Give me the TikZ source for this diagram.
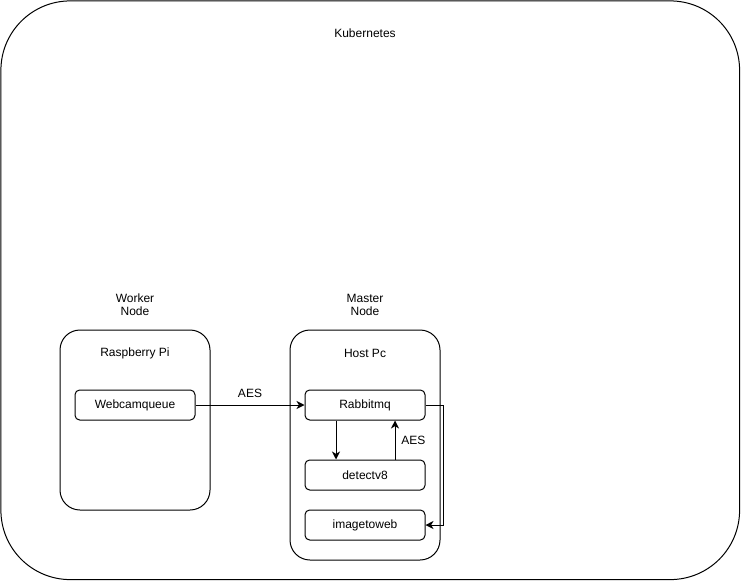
\documentclass[tikz,border=0pt]{standalone}
\usepackage{fontspec}
\setmainfont{Liberation Sans}
\usetikzlibrary{arrows.meta}
\begin{document}
\begin{tikzpicture}[x=0.75pt,y=-0.75pt,line width=0.75pt,
    font=\fontsize{9}{9.75}\selectfont,
    every node/.style={align=center},
    cluster/.style={draw,rounded corners=52pt,minimum width=554pt,minimum height=434pt,inner sep=0pt},
    machine/.style={draw,rounded corners=15pt,minimum width=112.5pt,inner sep=0pt},
    service/.style={draw,rounded corners=3.5pt,minimum width=90pt,minimum height=22.5pt,inner sep=0pt},
    link/.style={-{Stealth[length=6pt,width=6pt,inset=1.8pt]}}]
      \useasboundingbox (0,0) rectangle (741,581);
      \draw
        (370.25,290.25) node[cluster] (kube){}
        (365,33) node (kubelbl){Kubernetes}
        (135,304.5) node (workerlbl){Worker\\Node}
        (365,304.5) node (masterlbl){Master\\Node}
        (135,420) node[machine,minimum height=135pt] (pi){}
        (365,445) node[machine,minimum height=172.5pt] (host){}
        (135,353) node (pilbl){Raspberry Pi}
        (365,353) node (hostlbl){Host Pc}
        (135,405) node[service] (webcam){Webcamqueue}
        (365,405) node[service] (rabbit){Rabbitmq}
        (365,475) node[service] (detect){detectv8}
        (365,525) node[service] (imageweb){imagetoweb};
      \begin{scope}[link]
        \draw (webcam) to node[above=2pt] {AES} (rabbit);
        \draw ([xshift=-21.75pt]rabbit.south) to ([xshift=-21.75pt]detect.north);
        \draw ([xshift=22.5pt]detect.north) to node[right=1pt] {AES} ([xshift=22.5pt]rabbit.south);
        \draw (rabbit.east) -- ++(18,0) |- (imageweb.east);
      \end{scope}
    \end{tikzpicture}
\end{document}
